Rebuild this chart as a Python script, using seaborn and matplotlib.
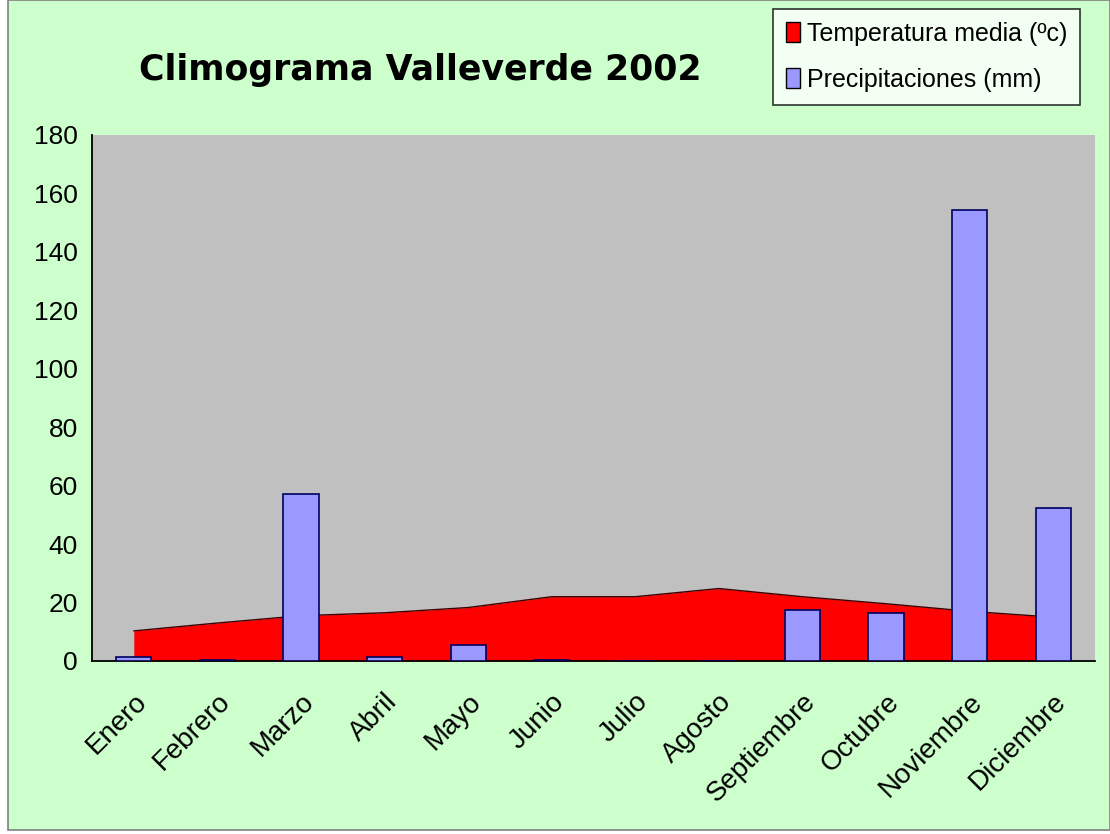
import numpy as np
import pandas as pd
import matplotlib
matplotlib.use("Agg")
import matplotlib.pyplot as plt
import seaborn as sns
from matplotlib.patches import Patch, Rectangle

meses = ['Enero', 'Febrero', 'Marzo', 'Abril', 'Mayo', 'Junio', 'Julio',
         'Agosto', 'Septiembre', 'Octubre', 'Noviembre', 'Diciembre']
temperatura = [10.3, 13.0, 15.5, 16.5, 18.3, 22.0, 22.0, 24.8, 22.0, 19.6, 17.0, 15.0]
precipitacion = [1.4, 0.4, 57.2, 1.4, 5.5, 0.4, 0.0, 0.0, 17.5, 16.5, 154.5, 52.4]
yticks = list(range(0, 181, 20))

sns.set_style("white")
plt.rcParams['font.family'] = ['Liberation Sans Narrow', 'Liberation Sans', 'DejaVu Sans']
plt.rcParams['text.color'] = 'black'
plt.rcParams['xtick.color'] = 'black'
plt.rcParams['ytick.color'] = 'black'

fig = plt.figure(figsize=(11.1, 8.34), dpi=100, facecolor='white')
# fondo verde con borde
fig.patches.append(Rectangle((8 / 1110, 4 / 834), 1 - 8 / 1110, 1 - 4 / 834,
                             transform=fig.transFigure, facecolor='#ccffcc',
                             edgecolor='#808080', linewidth=1.2, zorder=-10))

ax = fig.add_axes([92 / 1110, 1 - 661 / 834, (1095 - 92) / 1110, (661 - 135) / 834])
ax.set_facecolor('#c0c0c0')

df = pd.DataFrame({'mes': meses, 'temp': temperatura, 'prec': precipitacion})
pos = np.arange(len(meses))

# area de temperatura
ax.fill_between(pos, df['temp'], 0, color='#ff0000', zorder=1, linewidth=0)
ax.plot(pos, df['temp'], color='#400000', linewidth=1, zorder=1.5)

# barras de precipitacion
sns.barplot(data=df, x='mes', y='prec', ax=ax, color='#9999ff', saturation=1,
            edgecolor='#000060', linewidth=1.2, width=0.42)
for p in ax.patches:
    p.set_zorder(3)

ax.set_xlim(-0.5, len(meses) - 0.5)
ax.set_ylim(0, 180)
ax.set_yticks(yticks)
ax.set_yticklabels([str(v) for v in yticks], fontsize=19)
ax.set_xticks(pos)
ax.set_xticklabels(meses, rotation=45, ha='right', rotation_mode='anchor', fontsize=20)
ax.set_xticks(np.arange(-0.5, len(meses)), minor=True)
ax.tick_params(axis='x', which='major', length=0, pad=20)
ax.tick_params(axis='x', which='minor', length=9, width=1.2, color='black', direction='out')
ax.tick_params(axis='y', length=7, width=1.2, color='black', direction='out', pad=3)
ax.set_xlabel('')
ax.set_ylabel('')

for s in ['top', 'right']:
    ax.spines[s].set_visible(False)
for s in ['left', 'bottom']:
    ax.spines[s].set_color('black')
    ax.spines[s].set_linewidth(1.3)

fig.text(420 / 1110, 1 - 70 / 834, 'Climograma Valleverde 2002', ha='center', va='center',
         fontsize=25, fontweight='heavy', color='black', family=['DejaVu Sans'])

handles = [Patch(facecolor='#ff0000', edgecolor='black', label='Temperatura media (ºc)'),
           Patch(facecolor='#9999ff', edgecolor='black', label='Precipitaciones (mm)')]
leg = fig.legend(handles=handles, loc='upper right', bbox_to_anchor=(1080 / 1110, 1 - 9 / 834),
                 fontsize=18, frameon=True, fancybox=False, edgecolor='black',
                 handlelength=0.55, handleheight=0.85, handletextpad=0.3, borderpad=0.5,
                 labelspacing=0.9, borderaxespad=0)
leg.get_frame().set_linewidth(1.2)
leg.get_frame().set_facecolor('white')

fig.savefig('out.png', dpi=100, facecolor=fig.get_facecolor())
